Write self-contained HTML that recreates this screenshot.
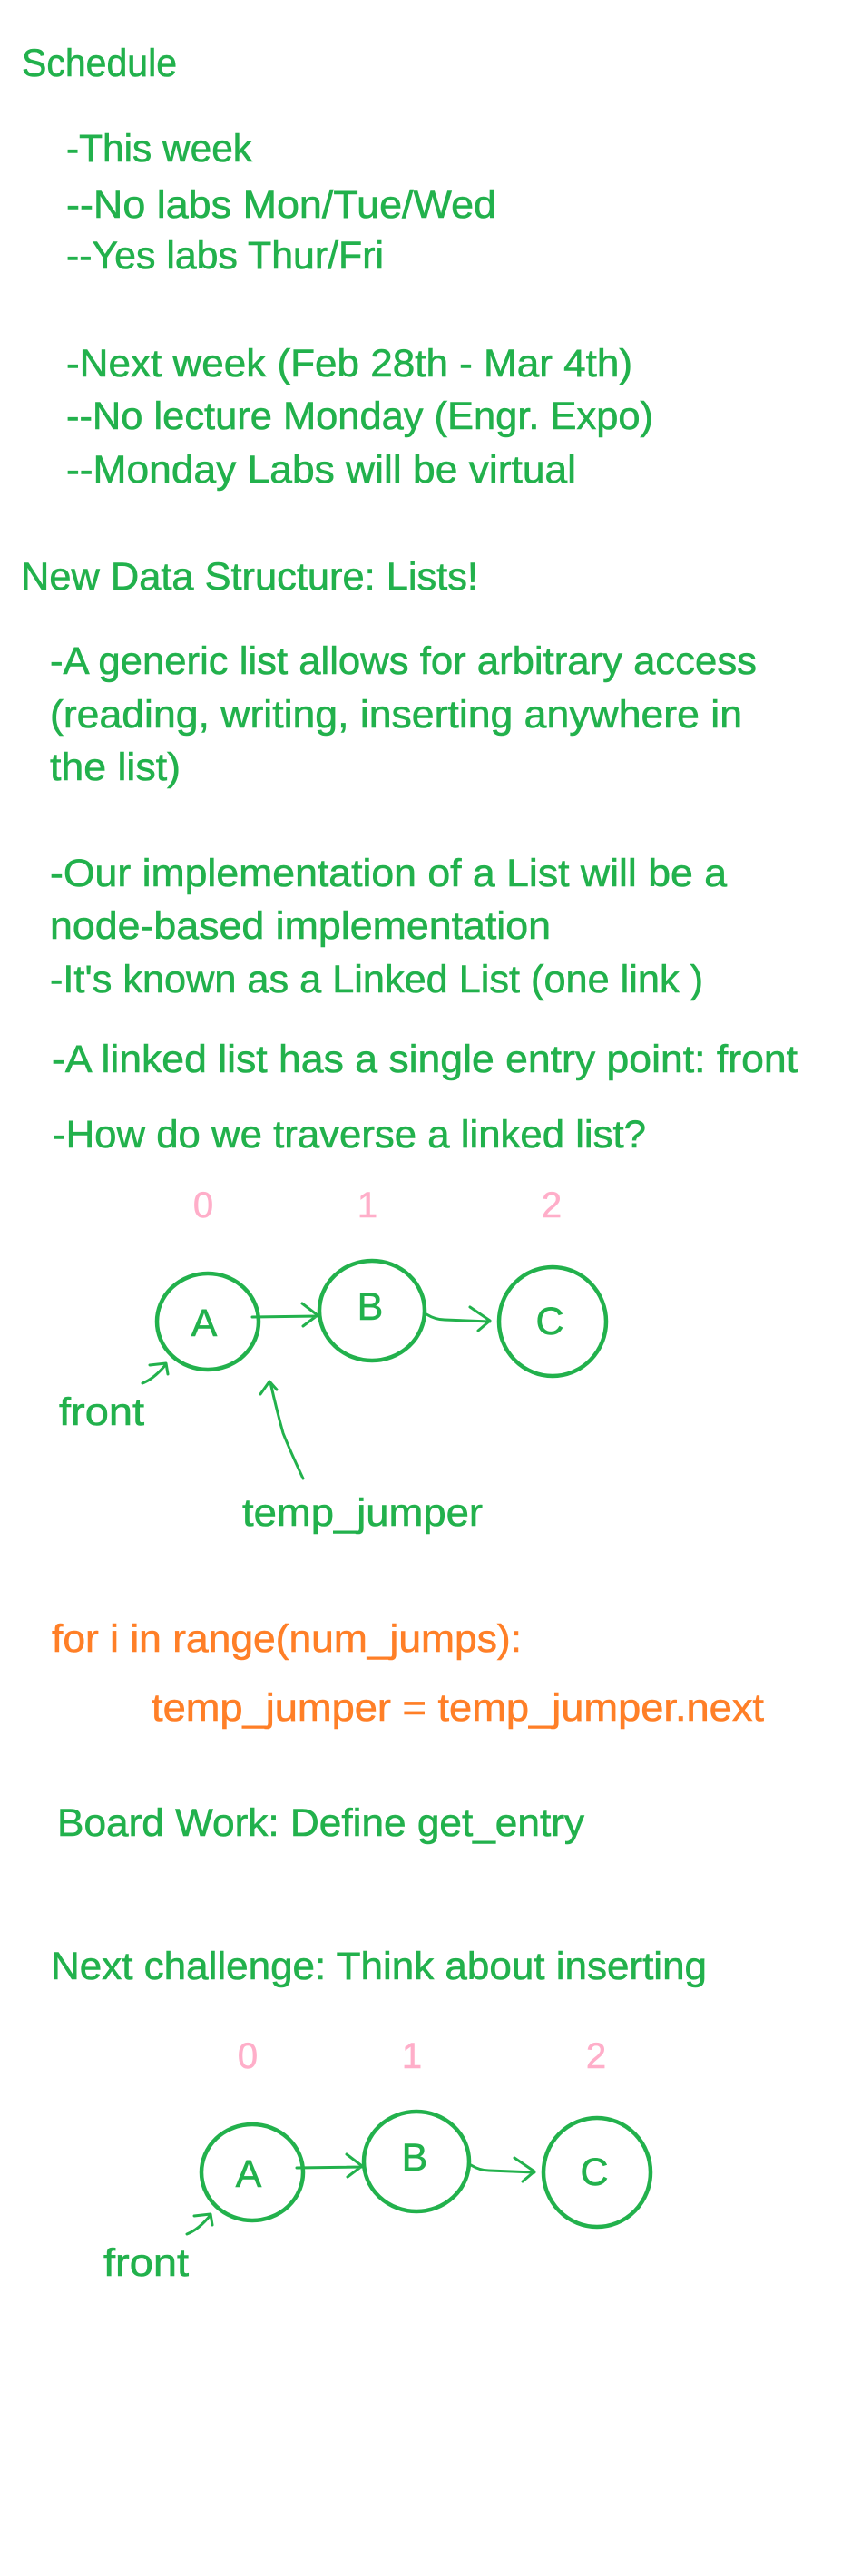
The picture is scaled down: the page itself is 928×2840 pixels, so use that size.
<!DOCTYPE html>
<html><head><meta charset="utf-8"><style>
html,body{margin:0;padding:0;background:#fff;}
svg{display:block;}
text{font-family:"Liberation Sans",sans-serif;font-size:43px;}
.g{fill:#22b14c;stroke:#22b14c;stroke-width:0.6;}
.o{fill:#ff7f27;stroke:#ff7f27;stroke-width:0.6;}
.p{fill:#ffaec9;stroke:#ffaec9;stroke-width:0.6;font-size:40px;}
.c{fill:none;stroke:#22b14c;stroke-width:4.5;}
.l{fill:none;stroke:#22b14c;stroke-width:3;stroke-linecap:round;stroke-linejoin:round;}
</style></head><body>
<svg width="928" height="2840" viewBox="0 0 928 2840" xmlns="http://www.w3.org/2000/svg">
<g class="g">
<text x="24" y="84" textLength="171" lengthAdjust="spacingAndGlyphs">Schedule</text>
<text x="73" y="178" textLength="205" lengthAdjust="spacingAndGlyphs">-This week</text>
<text x="73" y="240" textLength="474" lengthAdjust="spacingAndGlyphs">--No labs Mon/Tue/Wed</text>
<text x="73" y="296" textLength="350" lengthAdjust="spacingAndGlyphs">--Yes labs Thur/Fri</text>
<text x="73" y="415" textLength="624" lengthAdjust="spacingAndGlyphs">-Next week (Feb 28th - Mar 4th)</text>
<text x="73" y="473" textLength="647" lengthAdjust="spacingAndGlyphs">--No lecture Monday (Engr. Expo)</text>
<text x="73" y="532" textLength="562" lengthAdjust="spacingAndGlyphs">--Monday Labs will be virtual</text>
<text x="23" y="650" textLength="504" lengthAdjust="spacingAndGlyphs">New Data Structure: Lists!</text>
<text x="55" y="743" textLength="779" lengthAdjust="spacingAndGlyphs">-A generic list allows for arbitrary access</text>
<text x="55" y="802" textLength="763" lengthAdjust="spacingAndGlyphs">(reading, writing, inserting anywhere in</text>
<text x="55" y="860" textLength="144" lengthAdjust="spacingAndGlyphs">the list)</text>
<text x="55" y="977" textLength="746" lengthAdjust="spacingAndGlyphs">-Our implementation of a List will be a</text>
<text x="55" y="1035" textLength="552" lengthAdjust="spacingAndGlyphs">node-based implementation</text>
<text x="55" y="1094" textLength="720" lengthAdjust="spacingAndGlyphs">-It's known as a Linked List (one link )</text>
<text x="57" y="1182" textLength="822" lengthAdjust="spacingAndGlyphs">-A linked list has a single entry point: front</text>
<text x="58" y="1265" textLength="654" lengthAdjust="spacingAndGlyphs">-How do we traverse a linked list?</text>
</g>
<g id="d1">
<text class="p" x="224" y="1342" text-anchor="middle">0</text>
<text class="p" x="405" y="1342" text-anchor="middle">1</text>
<text class="p" x="608" y="1342" text-anchor="middle">2</text>
<ellipse class="c" cx="229" cy="1457" rx="56" ry="53"/>
<ellipse class="c" cx="410" cy="1445" rx="58" ry="55"/>
<ellipse class="c" cx="609" cy="1457" rx="59" ry="60"/>
<text class="g" x="225" y="1473" text-anchor="middle">A</text>
<text class="g" x="408" y="1455" text-anchor="middle">B</text>
<text class="g" x="606" y="1471" text-anchor="middle">C</text>
<path class="l" d="M278 1452 L350 1451 M333 1437 L350 1450 L334 1462"/>
<path class="l" d="M470 1449 Q480 1455 490 1455 L540 1457 M518 1441 L540 1456 L527 1467"/>
<path class="l" d="M157 1525 Q170 1520 183 1504 M165 1505 L183 1503 L185 1515"/>
<text class="g" x="65" y="1571" textLength="94" lengthAdjust="spacingAndGlyphs">front</text>
</g>
<path class="l" d="M334 1630 Q320 1600 312 1580 Q305 1555 298 1524 M287 1537 L297 1523 L305 1532"/>
<text class="g" x="267" y="1682" textLength="265" lengthAdjust="spacingAndGlyphs">temp_jumper</text>
<text class="o" x="57" y="1821" textLength="518" lengthAdjust="spacingAndGlyphs">for i in range(num_jumps):</text>
<text class="o" x="167" y="1897" textLength="675" lengthAdjust="spacingAndGlyphs">temp_jumper = temp_jumper.next</text>
<text class="g" x="63" y="2024" textLength="581" lengthAdjust="spacingAndGlyphs">Board Work: Define get_entry</text>
<text class="g" x="56" y="2182" textLength="723" lengthAdjust="spacingAndGlyphs">Next challenge: Think about inserting</text>
<use href="#d1" transform="translate(49,938)"/>
</svg>
</body></html>
